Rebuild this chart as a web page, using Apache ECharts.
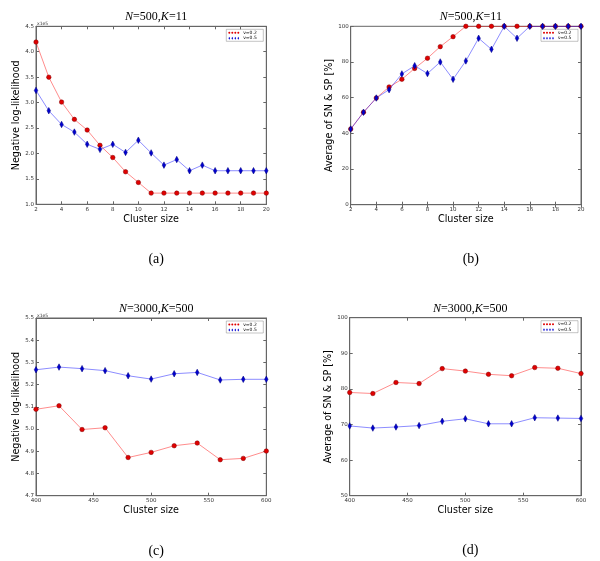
<!DOCTYPE html>
<html><head><meta charset="utf-8">
<script src="https://cdn.jsdelivr.net/npm/echarts@6/dist/echarts.min.js"></script>
<style>html,body{margin:0;padding:0;background:#fff}#c{width:600px;height:561px}</style>
</head><body><div id="c"></div>
<script>
// ---------- data ----------
const clusterSmall = [2,3,4,5,6,7,8,9,10,11,12,13,14,15,16,17,18,19,20];
const clusterLarge = [400,420,440,460,480,500,520,540,560,580,600];
const seriesNames = ['ν=0.2', 'ν=0.5'];
// (a) negative log-likelihood, x1e5
const nllA_nu02 = [4.19,3.50,3.01,2.67,2.46,2.16,1.92,1.64,1.43,1.22,1.22,1.22,1.22,1.22,1.22,1.22,1.22,1.22,1.22];
const nllA_nu05 = [3.24,2.84,2.57,2.42,2.18,2.08,2.18,2.02,2.26,2.01,1.77,1.88,1.66,1.77,1.66,1.66,1.66,1.66,1.66];
// (b) average of SN & SP [%]
const accB_nu02 = [42.4,51.8,59.8,66.0,70.3,76.4,82.1,88.6,94.2,100,100,100,100,100,100,100,100,100,100];
const accB_nu05 = [42.4,51.8,59.8,64.5,73.3,77.9,73.5,80.0,70.3,80.6,93.3,87.1,100,93.3,100,100,100,100,100];
// (c) negative log-likelihood, x1e5
const nllC_nu02 = [5.089,5.105,4.998,5.006,4.872,4.895,4.925,4.937,4.862,4.868,4.901];
const nllC_nu05 = [5.267,5.279,5.272,5.263,5.240,5.225,5.249,5.255,5.221,5.224,5.224];
// (d) average of SN & SP [%]
const accD_nu02 = [79.0,78.7,81.8,81.5,85.7,85.0,84.1,83.7,86.0,85.8,84.3];
const accD_nu05 = [69.6,69.0,69.3,69.7,70.9,71.6,70.2,70.2,71.9,71.8,71.7];
const panelTitles = [['500','11'],['500','11'],['3000','500'],['3000','500']];
const panelCaptions = ['(a)','(b)','(c)','(d)'];
const yNames = ['Negative log-likelihood','Average of SN & SP [%]','Negative log-likelihood','Average of SN & SP [%]'];
const xName = 'Cluster size';

// ---------- layout ----------
const grids = [
  {left:36, top:26.3, width:230.3, height:178},
  {left:350.7, top:26.3, width:230.3, height:178.4},
  {left:36, top:318, width:230.3, height:177.7},
  {left:349.7, top:317.7, width:231.3, height:178}
];
const xRanges = [[2,20,2],[2,20,2],[400,600,50],[400,600,50]];
const yRanges = [[1.0,4.5,0.5,1],[0,100,20,0],[4.7,5.5,0.1,1],[50,100,10,0]];
const panelData = [
  [clusterSmall, nllA_nu02, nllA_nu05],
  [clusterSmall, accB_nu02, accB_nu05],
  [clusterLarge, nllC_nu02, nllC_nu05],
  [clusterLarge, accD_nu02, accD_nu05]
];
const frame = '#666';
const tickFont = {fontFamily:'DejaVu Sans', fontSize:5.5, color:'#333'};

const option = {animation:false, backgroundColor:'#fff', grid:[], xAxis:[], yAxis:[], series:[], title:[], graphic:[]};

grids.forEach((g,p)=>{
  option.grid.push(Object.assign({show:true, borderColor:frame, borderWidth:1, containLabel:false}, g));
  const [xmin,xmax,xint] = xRanges[p];
  const [ymin,ymax,yint,dec] = yRanges[p];
  const common = {axisLine:{show:true,lineStyle:{color:frame,width:1}}, axisTick:{show:true,inside:true,length:3,lineStyle:{color:frame}}, splitLine:{show:false}};
  option.xAxis.push(Object.assign({type:'value', gridIndex:p, min:xmin, max:xmax, interval:xint, position:'bottom',
    axisLabel:Object.assign({margin:2}, tickFont),
    name:xName, nameLocation:'middle', nameGap:10, nameTextStyle:{fontFamily:'DejaVu Sans', fontSize:9.6, color:'#000'}}, common));
  option.xAxis.push(Object.assign({type:'value', gridIndex:p, min:xmin, max:xmax, interval:xint, position:'top', axisLabel:{show:false}}, common));
  option.yAxis.push(Object.assign({type:'value', gridIndex:p, min:ymin, max:ymax, interval:yint, position:'left',
    axisLabel:Object.assign({margin:2, formatter:v=>v.toFixed(dec)}, tickFont),
    name:yNames[p], nameLocation:'middle', nameGap:14, nameTextStyle:{fontFamily:'DejaVu Sans', fontSize:9.6, color:'#000'}}, common));
  option.yAxis.push(Object.assign({type:'value', gridIndex:p, min:ymin, max:ymax, interval:yint, position:'right', axisLabel:{show:false}}, common));

  const [xs, s1, s2] = panelData[p];
  option.series.push({type:'line', name:seriesNames[0], xAxisIndex:2*p, yAxisIndex:2*p,
    data:xs.map((x,i)=>[x,s1[i]]), symbol:'circle', symbolSize:4.5,
    lineStyle:{color:'rgba(255,0,0,0.45)', width:1},
    itemStyle:{color:'#e00000', borderColor:'#800000', borderWidth:0.5}, z:3});
  option.series.push({type:'line', name:seriesNames[1], xAxisIndex:2*p, yAxisIndex:2*p,
    data:xs.map((x,i)=>[x,s2[i]]), symbol:'diamond', symbolSize:[3.5,6.5],
    lineStyle:{color:'rgba(0,0,255,0.45)', width:1},
    itemStyle:{color:'#0000d0', borderColor:'#000080', borderWidth:0.5}, z:4});

  const cx = g.left + g.width/2;
  option.title.push({text:'{i|N}{n|='+panelTitles[p][0]+',}{i|K}{n|='+panelTitles[p][1]+'}',
    left:cx, top:g.top-20, textAlign:'center',
    textStyle:{fontWeight:'normal', rich:{i:{fontFamily:'Liberation Serif', fontStyle:'italic', fontWeight:'normal', fontSize:12, color:'#000'}, n:{fontFamily:'Liberation Serif', fontWeight:'normal', fontSize:12, color:'#000'}}}});
  option.title.push({text:panelCaptions[p], left:cx, top:g.top+221, textAlign:'center',
    textStyle:{fontFamily:'Liberation Serif', fontSize:14, fontWeight:'normal', color:'#000'}});

  // scale multiplier text for likelihood panels
  if (p===0 || p===2) {
    option.graphic.push({type:'text', left:g.left+1, top:g.top-5, style:{text:'x1e5', font:'4.5px DejaVu Sans', fill:'#333'}});
  }
  // legend
  const lx = g.left + g.width - 40, ly = g.top + 3;
  option.graphic.push({type:'rect', shape:{x:lx, y:ly, width:37, height:12}, style:{fill:'#fff', stroke:'#888', lineWidth:0.5}});
  [0,1].forEach(k=>{
    const yy = ly + 3.5 + k*5.5;
    for (let j=0;j<4;j++){
      const mx = lx + 3 + j*3;
      if (k===0) option.graphic.push({type:'circle', shape:{cx:mx, cy:yy, r:1}, style:{fill:'#e00000'}});
      else option.graphic.push({type:'polygon', shape:{points:[[mx,yy-1.5],[mx+0.8,yy],[mx,yy+1.5],[mx-0.8,yy]]}, style:{fill:'#0000d0'}});
    }
    option.graphic.push({type:'text', left:lx+17, top:yy-2.5, style:{text:seriesNames[k], font:'4.5px DejaVu Sans', fill:'#000'}});
  });
});

const chart = echarts.init(document.getElementById('c'), null, {renderer:'canvas'});
chart.setOption(option);
</script></body></html>
